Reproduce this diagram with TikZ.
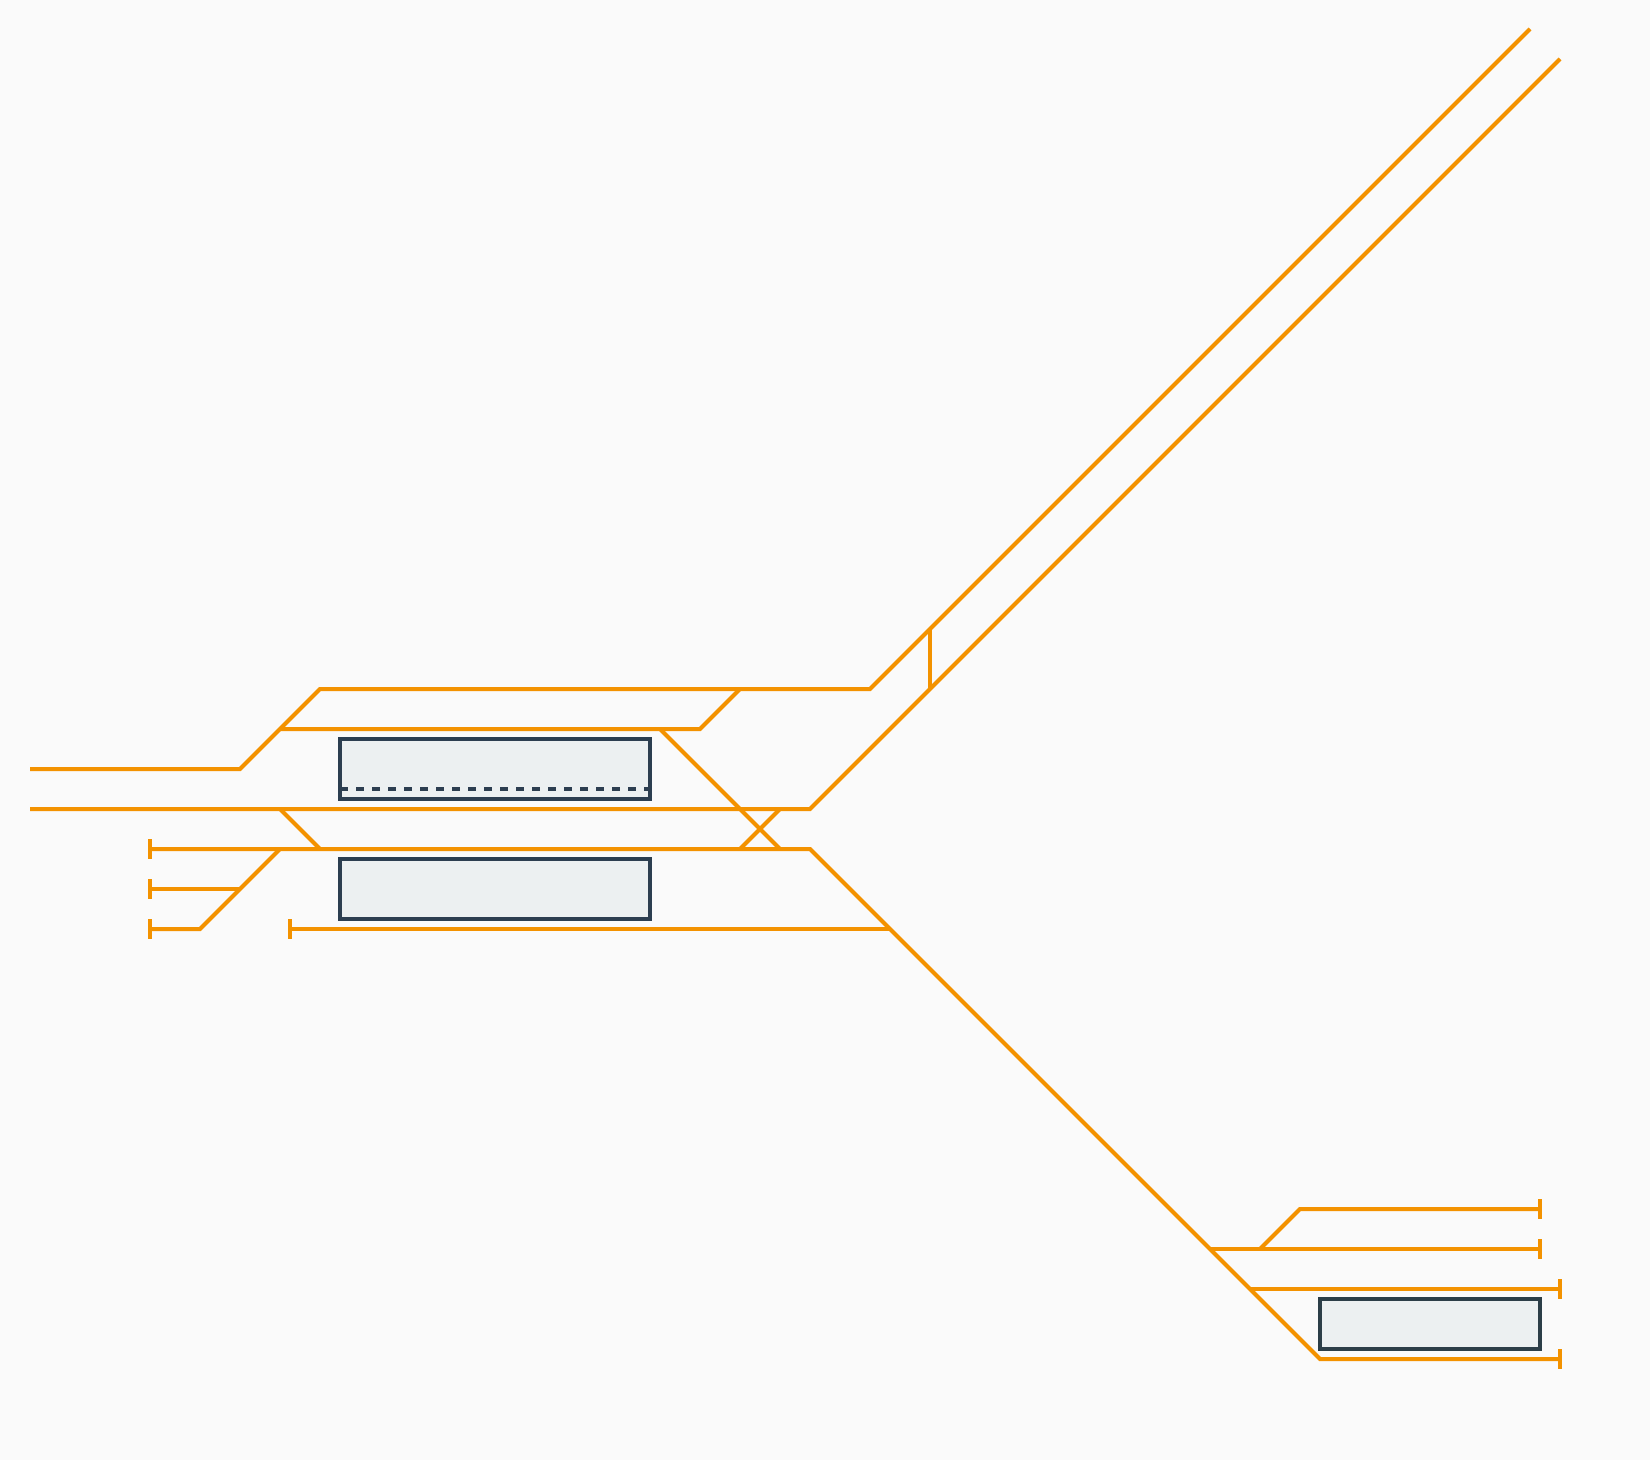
\documentclass[tikz,border=0pt]{standalone}
\usepackage{tikz}

\definecolor{pagebg}{HTML}{FAFAFA}
\definecolor{trackcol}{HTML}{F39200}
\definecolor{hallcol}{HTML}{2C3E50}
\definecolor{depotcol}{HTML}{2C3E48}
\definecolor{hallfill}{HTML}{ECF0F1}

\tikzset{
    track/.style={draw=trackcol, line width=4bp},
    stopper/.style={rectangle, fill=trackcol, inner sep=0pt, outer sep=0pt, minimum width=4bp, minimum height=20bp},
    platform/.style={rectangle, draw=hallcol, fill=hallfill, line width=4bp, inner sep=0pt, outer sep=0pt},
    edgeline/.style={draw=hallcol, line width=4bp, dash pattern=on 8bp off 8bp}
}

\begin{document}
\begin{tikzpicture}[x=1bp, y=-1bp]
        \fill[pagebg] (0,1) rectangle (1650,1461);
        \useasboundingbox (0,1) rectangle (1650,1461);

        % Platforms
        \node[platform, minimum width=310bp, minimum height=60bp] (P1) at (495,770) {};
        \node[platform, minimum width=310bp, minimum height=60bp] (P2) at (495,890) {};
        \node[platform, draw=depotcol, minimum width=220bp, minimum height=50bp] (P3) at (1430,1325) {};

        % Platform edge
        \coordinate (D1) at (340,790);
        \coordinate (D2) at (650,790);
        \draw[edgeline] (D1) -- (D2);

        % Buffer stops
        \node[stopper] (S1) at (150,850) {};
        \node[stopper] (S2) at (150,890) {};
        \node[stopper] (S3) at (150,930) {};
        \node[stopper] (S4) at (290,930) {};
        \node[stopper] (S5) at (1540,1210) {};
        \node[stopper] (S6) at (1540,1250) {};
        \node[stopper] (S7) at (1560,1290) {};
        \node[stopper] (S8) at (1560,1360) {};

        % Line ends
        \coordinate (W1) at (30,770);
        \coordinate (W2) at (30,810);
        \coordinate (N1) at (1530,30);
        \coordinate (N2) at (1560,60);

        % Bends and junctions
        \coordinate (A1) at (240,770);
        \coordinate (A2) at (280,730);
        \coordinate (A3) at (320,690);
        \coordinate (A4) at (740,690);
        \coordinate (A5) at (870,690);
        \coordinate (A6) at (930,630);
        \coordinate (B1) at (660,730);
        \coordinate (B2) at (700,730);
        \coordinate (C1) at (280,810);
        \coordinate (C3) at (780,810);
        \coordinate (C4) at (810,810);
        \coordinate (C5) at (930,690);
        \coordinate (E1) at (280,850);
        \coordinate (E2) at (320,850);
        \coordinate (E3) at (740,850);
        \coordinate (E4) at (780,850);
        \coordinate (E5) at (810,850);
        \coordinate (F1) at (240,890);
        \coordinate (F2) at (200,930);
        \coordinate (G1) at (890,930);
        \coordinate (G2) at (1210,1250);
        \coordinate (G3) at (1250,1290);
        \coordinate (G4) at (1320,1360);
        \coordinate (H1) at (1260,1250);
        \coordinate (H2) at (1300,1210);

        % Main tracks
        \draw[track] (W1) -- (A1) -- (A3) -- (A5) -- (N1);
        \draw[track] (W2) -- (C4) -- (N2);
        \draw[track] (S1) -- (E5) -- (G4) -- (S8);

        % Branches
        \draw[track] (A2) -- (B2) -- (A4);
        \draw[track] (B1) -- (E4);
        \draw[track] (C1) -- (E2);
        \draw[track] (E3) -- (C3);
        \draw[track] (A6) -- (C5);
        \draw[track] (E1) -- (F2) -- (S3);
        \draw[track] (S2) -- (F1);
        \draw[track] (S4) -- (G1);
        \draw[track] (G2) -- (S6);
        \draw[track] (H1) -- (H2) -- (S5);
        \draw[track] (G3) -- (S7);
    \end{tikzpicture}
\end{document}
